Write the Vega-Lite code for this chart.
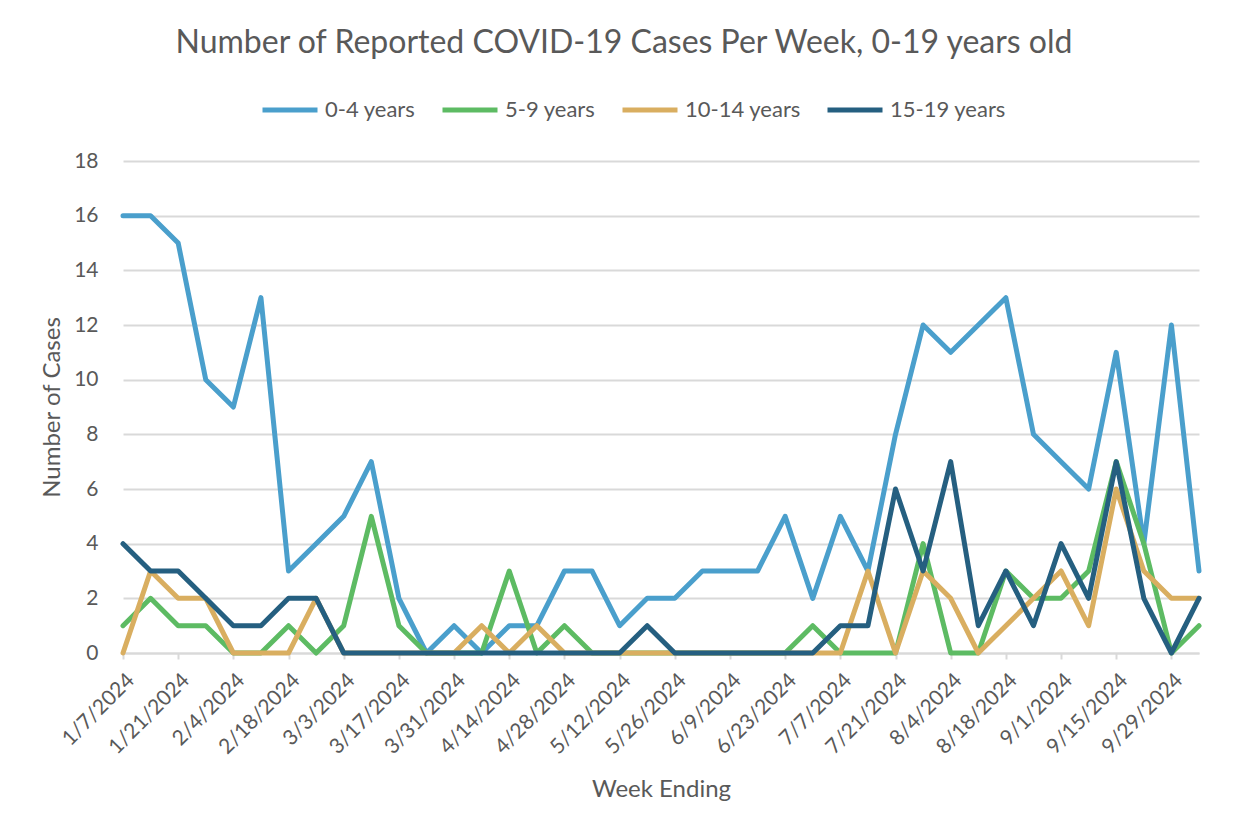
{
  "$schema": "https://vega.github.io/schema/vega-lite/v6.json",
  "autosize": "none",
  "width": 1076,
  "height": 492,
  "padding": {"left": 123, "top": 161, "right": 48, "bottom": 184},
  "background": "white",
  "config": {
    "font": "Lato",
    "view": {"stroke": null},
    "axis": {"labelFont": "Lato", "titleFont": "Lato", "labelColor": "#595959", "titleColor": "#595959", "titleFontWeight": "normal"}
  },
  "title": {
    "text": "Number of Reported COVID-19 Cases Per Week, 0-19 years old",
    "font": "Lato",
    "fontSize": 32,
    "fontWeight": "normal",
    "color": "#595959",
    "anchor": "middle",
    "dx": -37,
    "baseline": "alphabetic",
    "offset": -5
  },
  "data": {
    "values": [
      {"week": "1/7/2024", "0-4 years": 16, "5-9 years": 1, "10-14 years": 0, "15-19 years": 4},
      {"week": "1/14/2024", "0-4 years": 16, "5-9 years": 2, "10-14 years": 3, "15-19 years": 3},
      {"week": "1/21/2024", "0-4 years": 15, "5-9 years": 1, "10-14 years": 2, "15-19 years": 3},
      {"week": "1/28/2024", "0-4 years": 10, "5-9 years": 1, "10-14 years": 2, "15-19 years": 2},
      {"week": "2/4/2024", "0-4 years": 9, "5-9 years": 0, "10-14 years": 0, "15-19 years": 1},
      {"week": "2/11/2024", "0-4 years": 13, "5-9 years": 0, "10-14 years": 0, "15-19 years": 1},
      {"week": "2/18/2024", "0-4 years": 3, "5-9 years": 1, "10-14 years": 0, "15-19 years": 2},
      {"week": "2/25/2024", "0-4 years": 4, "5-9 years": 0, "10-14 years": 2, "15-19 years": 2},
      {"week": "3/3/2024", "0-4 years": 5, "5-9 years": 1, "10-14 years": 0, "15-19 years": 0},
      {"week": "3/10/2024", "0-4 years": 7, "5-9 years": 5, "10-14 years": 0, "15-19 years": 0},
      {"week": "3/17/2024", "0-4 years": 2, "5-9 years": 1, "10-14 years": 0, "15-19 years": 0},
      {"week": "3/24/2024", "0-4 years": 0, "5-9 years": 0, "10-14 years": 0, "15-19 years": 0},
      {"week": "3/31/2024", "0-4 years": 1, "5-9 years": 0, "10-14 years": 0, "15-19 years": 0},
      {"week": "4/7/2024", "0-4 years": 0, "5-9 years": 0, "10-14 years": 1, "15-19 years": 0},
      {"week": "4/14/2024", "0-4 years": 1, "5-9 years": 3, "10-14 years": 0, "15-19 years": 0},
      {"week": "4/21/2024", "0-4 years": 1, "5-9 years": 0, "10-14 years": 1, "15-19 years": 0},
      {"week": "4/28/2024", "0-4 years": 3, "5-9 years": 1, "10-14 years": 0, "15-19 years": 0},
      {"week": "5/5/2024", "0-4 years": 3, "5-9 years": 0, "10-14 years": 0, "15-19 years": 0},
      {"week": "5/12/2024", "0-4 years": 1, "5-9 years": 0, "10-14 years": 0, "15-19 years": 0},
      {"week": "5/19/2024", "0-4 years": 2, "5-9 years": 0, "10-14 years": 0, "15-19 years": 1},
      {"week": "5/26/2024", "0-4 years": 2, "5-9 years": 0, "10-14 years": 0, "15-19 years": 0},
      {"week": "6/2/2024", "0-4 years": 3, "5-9 years": 0, "10-14 years": 0, "15-19 years": 0},
      {"week": "6/9/2024", "0-4 years": 3, "5-9 years": 0, "10-14 years": 0, "15-19 years": 0},
      {"week": "6/16/2024", "0-4 years": 3, "5-9 years": 0, "10-14 years": 0, "15-19 years": 0},
      {"week": "6/23/2024", "0-4 years": 5, "5-9 years": 0, "10-14 years": 0, "15-19 years": 0},
      {"week": "6/30/2024", "0-4 years": 2, "5-9 years": 1, "10-14 years": 0, "15-19 years": 0},
      {"week": "7/7/2024", "0-4 years": 5, "5-9 years": 0, "10-14 years": 0, "15-19 years": 1},
      {"week": "7/14/2024", "0-4 years": 3, "5-9 years": 0, "10-14 years": 3, "15-19 years": 1},
      {"week": "7/21/2024", "0-4 years": 8, "5-9 years": 0, "10-14 years": 0, "15-19 years": 6},
      {"week": "7/28/2024", "0-4 years": 12, "5-9 years": 4, "10-14 years": 3, "15-19 years": 3},
      {"week": "8/4/2024", "0-4 years": 11, "5-9 years": 0, "10-14 years": 2, "15-19 years": 7},
      {"week": "8/11/2024", "0-4 years": 12, "5-9 years": 0, "10-14 years": 0, "15-19 years": 1},
      {"week": "8/18/2024", "0-4 years": 13, "5-9 years": 3, "10-14 years": 1, "15-19 years": 3},
      {"week": "8/25/2024", "0-4 years": 8, "5-9 years": 2, "10-14 years": 2, "15-19 years": 1},
      {"week": "9/1/2024", "0-4 years": 7, "5-9 years": 2, "10-14 years": 3, "15-19 years": 4},
      {"week": "9/8/2024", "0-4 years": 6, "5-9 years": 3, "10-14 years": 1, "15-19 years": 2},
      {"week": "9/15/2024", "0-4 years": 11, "5-9 years": 7, "10-14 years": 6, "15-19 years": 7},
      {"week": "9/22/2024", "0-4 years": 4, "5-9 years": 4, "10-14 years": 3, "15-19 years": 2},
      {"week": "9/29/2024", "0-4 years": 12, "5-9 years": 0, "10-14 years": 2, "15-19 years": 0},
      {"week": "10/6/2024", "0-4 years": 3, "5-9 years": 1, "10-14 years": 2, "15-19 years": 2}
    ]
  },
  "transform": [
    {"fold": ["0-4 years", "5-9 years", "10-14 years", "15-19 years"], "as": ["group", "cases"]}
  ],
  "mark": {"type": "line", "strokeWidth": 5, "strokeJoin": "round", "strokeCap": "round"},
  "encoding": {
    "x": {
      "field": "week",
      "type": "ordinal",
      "sort": null,
      "scale": {"type": "point", "padding": 0},
      "axis": {
        "title": "Week Ending",
        "titleFontSize": 24,
        "titlePadding": 20,
        "values": ["1/7/2024", "1/21/2024", "2/4/2024", "2/18/2024", "3/3/2024", "3/17/2024", "3/31/2024", "4/14/2024", "4/28/2024", "5/12/2024", "5/26/2024", "6/9/2024", "6/23/2024", "7/7/2024", "7/21/2024", "8/4/2024", "8/18/2024", "9/1/2024", "9/15/2024", "9/29/2024"],
        "labelAngle": -45,
        "labelFontSize": 21,
        "labelPadding": 10,
        "labelOverlap": false,
        "domainColor": "#d9d9d9",
        "domainWidth": 2,
        "tickColor": "#d9d9d9",
        "tickWidth": 2,
        "tickSize": 6,
        "grid": false
      }
    },
    "y": {
      "field": "cases",
      "type": "quantitative",
      "scale": {"domain": [0, 18]},
      "axis": {
        "title": "Number of Cases",
        "titleFontSize": 24,
        "titlePadding": 9,
        "values": [0, 2, 4, 6, 8, 10, 12, 14, 16, 18],
        "labelFontSize": 21,
        "labelPadding": 25,
        "domain": false,
        "ticks": false,
        "gridColor": "#d9d9d9",
        "gridWidth": 2
      }
    },
    "color": {
      "field": "group",
      "type": "nominal",
      "scale": {
        "domain": ["0-4 years", "5-9 years", "10-14 years", "15-19 years"],
        "range": ["#4A9FCC", "#5DBB63", "#D9AE60", "#255F80"]
      },
      "legend": {
        "title": null,
        "orient": "none",
        "direction": "horizontal",
        "legendX": 137,
        "legendY": -81,
        "symbolType": "stroke",
        "symbolSize": 3025,
        "symbolStrokeWidth": 5,
        "labelFont": "Lato",
        "labelFontSize": 22,
        "labelColor": "#595959",
        "labelOffset": 5,
        "columnPadding": 16
      }
    }
  }
}
